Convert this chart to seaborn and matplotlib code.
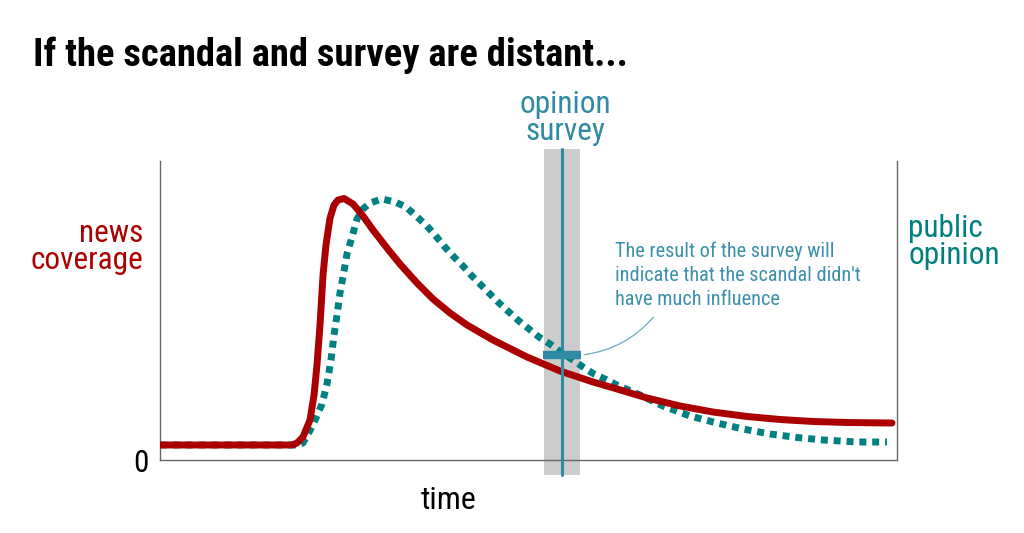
import pandas as pd
import matplotlib.pyplot as plt
import seaborn as sns
from matplotlib import font_manager

# --- dados (tempo 0-100, nível 0-100) ---
tempo_noticias = [0, 17.91, 18.59, 19.40, 20.35, 20.90, 21.30, 21.71, 22.12, 22.52, 23.07,
                  23.61, 24.15, 24.97, 26.19, 27.54, 28.90, 30.80, 32.56, 34.87, 37.04,
                  39.35, 41.66, 45.18, 49.80, 54.27, 58.75, 62.01, 66.08, 70.56, 75.03,
                  79.65, 84.12, 88.60, 93.22, 99.32]
nivel_noticias = [5.02, 5.02, 5.69, 7.69, 13.38, 21.74, 31.77, 45.15, 61.87, 71.91, 80.94,
                  85.28, 86.96, 87.46, 85.62, 81.61, 76.92, 70.90, 65.55, 59.20, 53.85,
                  49.16, 45.15, 40.13, 34.45, 29.77, 26.09, 23.75, 20.74, 18.06, 16.05,
                  14.55, 13.55, 12.88, 12.54, 12.37]

tempo_opiniao = [0, 18.32, 19.40, 20.76, 21.98, 22.66, 23.20, 23.61, 24.02, 24.42, 24.83,
                 25.37, 26.05, 26.73, 27.54, 28.49, 30.12, 31.89, 33.38, 34.74, 36.09,
                 37.31, 38.53, 39.76, 41.11, 42.20, 43.42, 44.78, 46.00, 47.35, 48.71,
                 50.07, 51.42, 52.92, 54.55, 56.04, 57.39, 58.89, 60.52, 62.01, 65.13,
                 68.25, 71.91, 75.58, 79.10, 82.77, 86.43, 89.96, 94.57, 98.64]
nivel_opiniao = [5.02, 5.02, 5.69, 11.71, 18.73, 25.42, 33.44, 41.81, 48.49, 55.85, 61.20,
                 68.90, 74.58, 80.60, 83.95, 85.95, 87.29, 86.29, 84.62, 81.61, 78.60,
                 75.25, 71.57, 68.23, 64.88, 61.87, 58.86, 55.52, 52.51, 49.50, 46.49,
                 43.81, 41.14, 38.80, 35.79, 33.44, 31.10, 28.76, 26.92, 25.08, 21.74,
                 18.06, 14.72, 12.37, 10.37, 8.70, 7.53, 6.69, 6.02, 6.02]

pesquisa_tempo = 54.5
pesquisa_faixa = (52.1, 57.0)
pesquisa_marca = (52.0, 57.1)
pesquisa_nivel = 35.1

VERMELHO = "#aa0000"
VERDE = "#008080"
AZUL = "#2f8aa3"

df_noticias = pd.DataFrame({"tempo": tempo_noticias, "nivel": nivel_noticias})
df_opiniao = pd.DataFrame({"tempo": tempo_opiniao, "nivel": nivel_opiniao})

sns.set_theme(style="white")
nomes = {f.name for f in font_manager.fontManager.ttflist}
if "Roboto Condensed" in nomes:
    FONTE = "Roboto Condensed"
elif "Liberation Sans Narrow" in nomes:
    FONTE = "Liberation Sans Narrow"
else:
    FONTE = "Roboto"
plt.rcParams["font.family"] = [FONTE, "DejaVu Sans"]

fig = plt.figure(figsize=(10.24, 5.33), dpi=100)
ax = fig.add_axes([160 / 1024, 73 / 533, 737 / 1024, 299 / 533])

# faixa cinza da pesquisa (passa um pouco dos eixos)
ax.axvspan(*pesquisa_faixa, ymin=-0.05, ymax=1.04, color="#cccccc", clip_on=False, zorder=0, lw=0)

sns.lineplot(data=df_opiniao, x="tempo", y="nivel", ax=ax, color=VERDE, lw=5,
             linestyle=(0, (1, 0.85)), dash_capstyle="butt", zorder=2, sort=False)
sns.lineplot(data=df_noticias, x="tempo", y="nivel", ax=ax, color=VERMELHO, lw=5,
             solid_capstyle="round", solid_joinstyle="round", zorder=3, sort=False)

ax.axvline(pesquisa_tempo, ymin=-0.05, ymax=1.04, color=AZUL, lw=2.2, clip_on=False, zorder=4)
ax.plot(pesquisa_marca, [pesquisa_nivel, pesquisa_nivel], color=AZUL, lw=6,
        solid_capstyle="butt", zorder=5)

ax.set_xlim(0, 100)
ax.set_ylim(0, 100)
ax.set_xticks([])
ax.set_yticks([0])
ax.set_yticklabels(["0"], fontsize=22.5, color="black")
ax.tick_params(axis="y", length=0, pad=8)
ax.set_xlabel("")
ax.set_ylabel("")
ax.spines["top"].set_visible(False)
for lado in ["left", "right", "bottom"]:
    ax.spines[lado].set_color("#666666")
    ax.spines[lado].set_linewidth(1)

ax.text(0.391, -0.137, "time", transform=ax.transAxes, ha="center", va="center",
        fontsize=23, color="black")

# anotação
ax.annotate("", xy=(57.2, pesquisa_nivel), xytext=(67.2, 48.5),
            arrowprops=dict(arrowstyle="-", color="#6aaabf", lw=0.9,
                            connectionstyle="arc3,rad=-0.2"))
fig.text(615 / 1024, 1 - 275 / 533,
         "The result of the survey will\nindicate that the scandal didn't\nhave much influence",
         ha="left", va="center", fontsize=14.6, color="#3a90a8", linespacing=1.32)

# rótulos
fig.text(33 / 1024, 1 - 55 / 533, "If the scandal and survey are distant...",
         ha="left", va="center", fontsize=27.8, fontweight="bold", color="black")
fig.text(565 / 1024, 1 - 118 / 533, "opinion\nsurvey", ha="center", va="center",
         fontsize=22.5, color=AZUL, linespacing=0.95)
fig.text(143 / 1024, 1 - 247 / 533, "news\ncoverage", ha="right", va="center",
         fontsize=22.5, color=VERMELHO, linespacing=0.95)
fig.text(908 / 1024, 1 - 242 / 533, "public\nopinion", ha="left", va="center",
         fontsize=22.5, color=VERDE, linespacing=0.95)

fig.savefig("out.png", dpi=100, facecolor="white")
